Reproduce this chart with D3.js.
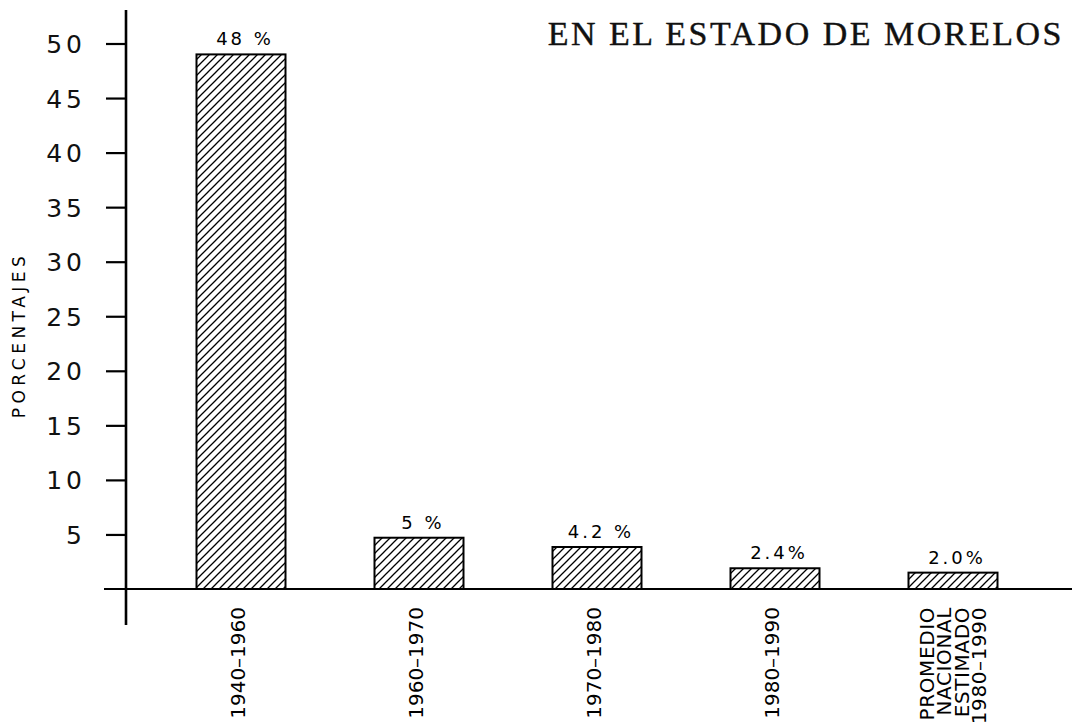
<!DOCTYPE html>
<html>
<head>
<meta charset="utf-8">
<script src="https://cdn.jsdelivr.net/npm/d3@7"></script>
<style>
  body { margin: 0; background: #fff; }
  svg { display: block; }
</style>
</head>
<body>
<div id="chart"></div>
<script>
// data
var periods = ["1940–1960", "1960–1970", "1970–1980", "1980–1990", "PROMEDIO|NACIONAL|ESTIMADO|1980–1990"];
var heights = [49.0, 4.7, 3.85, 1.9, 1.5];          // drawn bar heights
var barLabels = ["48 %", "5 %", "4.2 %", "2.4%", "2.0%"];
var yTicks = [5, 10, 15, 20, 25, 30, 35, 40, 45, 50];
var title = "EN EL ESTADO DE MORELOS";
var yTitle = "PORCENTAJES";

var svgWidth = 1077;
var svgHeight = 726;

var svg = d3.select("#chart")
  .append("svg")
  .attr("width", svgWidth)
  .attr("height", svgHeight);

// hatch pattern
var defs = svg.append("defs");
defs.append("pattern")
  .attr("id", "hatch")
  .attr("patternUnits", "userSpaceOnUse")
  .attr("width", 8)
  .attr("height", 8)
  .append("path")
  .attr("d", "M-2,2 l4,-4 M0,8 l8,-8 M6,10 l4,-4")
  .attr("stroke", "#000")
  .attr("stroke-width", 1.3);

// scales
var xScale = d3.scaleBand()
  .domain(periods)
  .range([152, 1042])
  .paddingInner(0.5)
  .paddingOuter(0.25);

var yScale = d3.scaleLinear()
  .domain([0, 50])
  .range([589, 43.5]);

var axisX = 126;

// y axis ticks + labels
var leftAxis = d3.axisLeft(yScale)
  .tickValues(yTicks)
  .tickSize(20)
  .tickPadding(0);

var yAxisG = svg.append("g")
  .attr("transform", `translate(${axisX}, 0)`)
  .call(leftAxis);

yAxisG.select(".domain").remove();
yAxisG.selectAll(".tick line")
  .attr("stroke", "#000")
  .attr("stroke-width", 2.2);
yAxisG.selectAll(".tick text")
  .attr("x", -40)
  .attr("dy", "0.36em")
  .attr("fill", "#111")
  .style("font-family", "'DejaVu Sans', sans-serif")
  .style("font-size", "25px")
  .style("letter-spacing", "4px");

// vertical axis line
svg.append("line")
  .attr("x1", axisX).attr("x2", axisX)
  .attr("y1", 10).attr("y2", 625)
  .attr("stroke", "#000")
  .attr("stroke-width", 2.6);

// bars
svg.selectAll("rect.bar")
  .data(periods)
  .enter()
  .append("rect")
  .attr("class", "bar")
  .attr("x", d => xScale(d))
  .attr("y", (d, i) => yScale(heights[i]))
  .attr("width", xScale.bandwidth())
  .attr("height", (d, i) => yScale(0) - yScale(heights[i]))
  .attr("fill", "url(#hatch)")
  .attr("stroke", "#000")
  .attr("stroke-width", 2);

// baseline
svg.append("line")
  .attr("x1", 104).attr("x2", 1072)
  .attr("y1", yScale(0)).attr("y2", yScale(0))
  .attr("stroke", "#000")
  .attr("stroke-width", 2.2);

// value labels above bars
svg.selectAll("text.val")
  .data(periods)
  .enter()
  .append("text")
  .attr("class", "val")
  .attr("x", d => xScale(d) + xScale.bandwidth() / 2 + 4)
  .attr("y", (d, i) => yScale(heights[i]) - 9)
  .attr("text-anchor", "middle")
  .style("font-family", "'DejaVu Sans', sans-serif")
  .style("font-size", "18px")
  .style("letter-spacing", "3px")
  .text((d, i) => barLabels[i]);

// category labels, rotated
periods.forEach(function(p) {
  var lines = p.split("|");
  var cx = xScale(p) + xScale.bandwidth() / 2 - 3;
  var lh = 17.5;
  var x0 = cx - (lines.length - 1) * lh / 2;
  lines.forEach(function(line, j) {
    svg.append("text")
      .attr("transform", `translate(${x0 + j * lh + (lines.length > 1 ? 10 : 7)}, 607) rotate(-90)`)
      .attr("text-anchor", "end")
      .style("font-family", "'DejaVu Sans', sans-serif")
      .style("font-size", "20px")
      .style("letter-spacing", lines.length > 1 ? "0.6px" : "0px")
      .text(line);
  });
});

// y title
svg.append("text")
  .attr("transform", "translate(25, 335) rotate(-90)")
  .attr("text-anchor", "middle")
  .style("font-family", "'DejaVu Sans', sans-serif")
  .style("font-size", "17px")
  .style("letter-spacing", "4.5px")
  .text(yTitle);

// chart title
svg.append("text")
  .attr("x", 1064)
  .attr("y", 45)
  .attr("text-anchor", "end")
  .style("font-family", "'Liberation Serif', 'DejaVu Serif', serif")
  .style("font-size", "34px")
  .style("letter-spacing", "2.5px")
  .attr("fill", "#111")
  .attr("stroke", "#111")
  .attr("stroke-width", 0.4)
  .text(title);
</script>
</body>
</html>
